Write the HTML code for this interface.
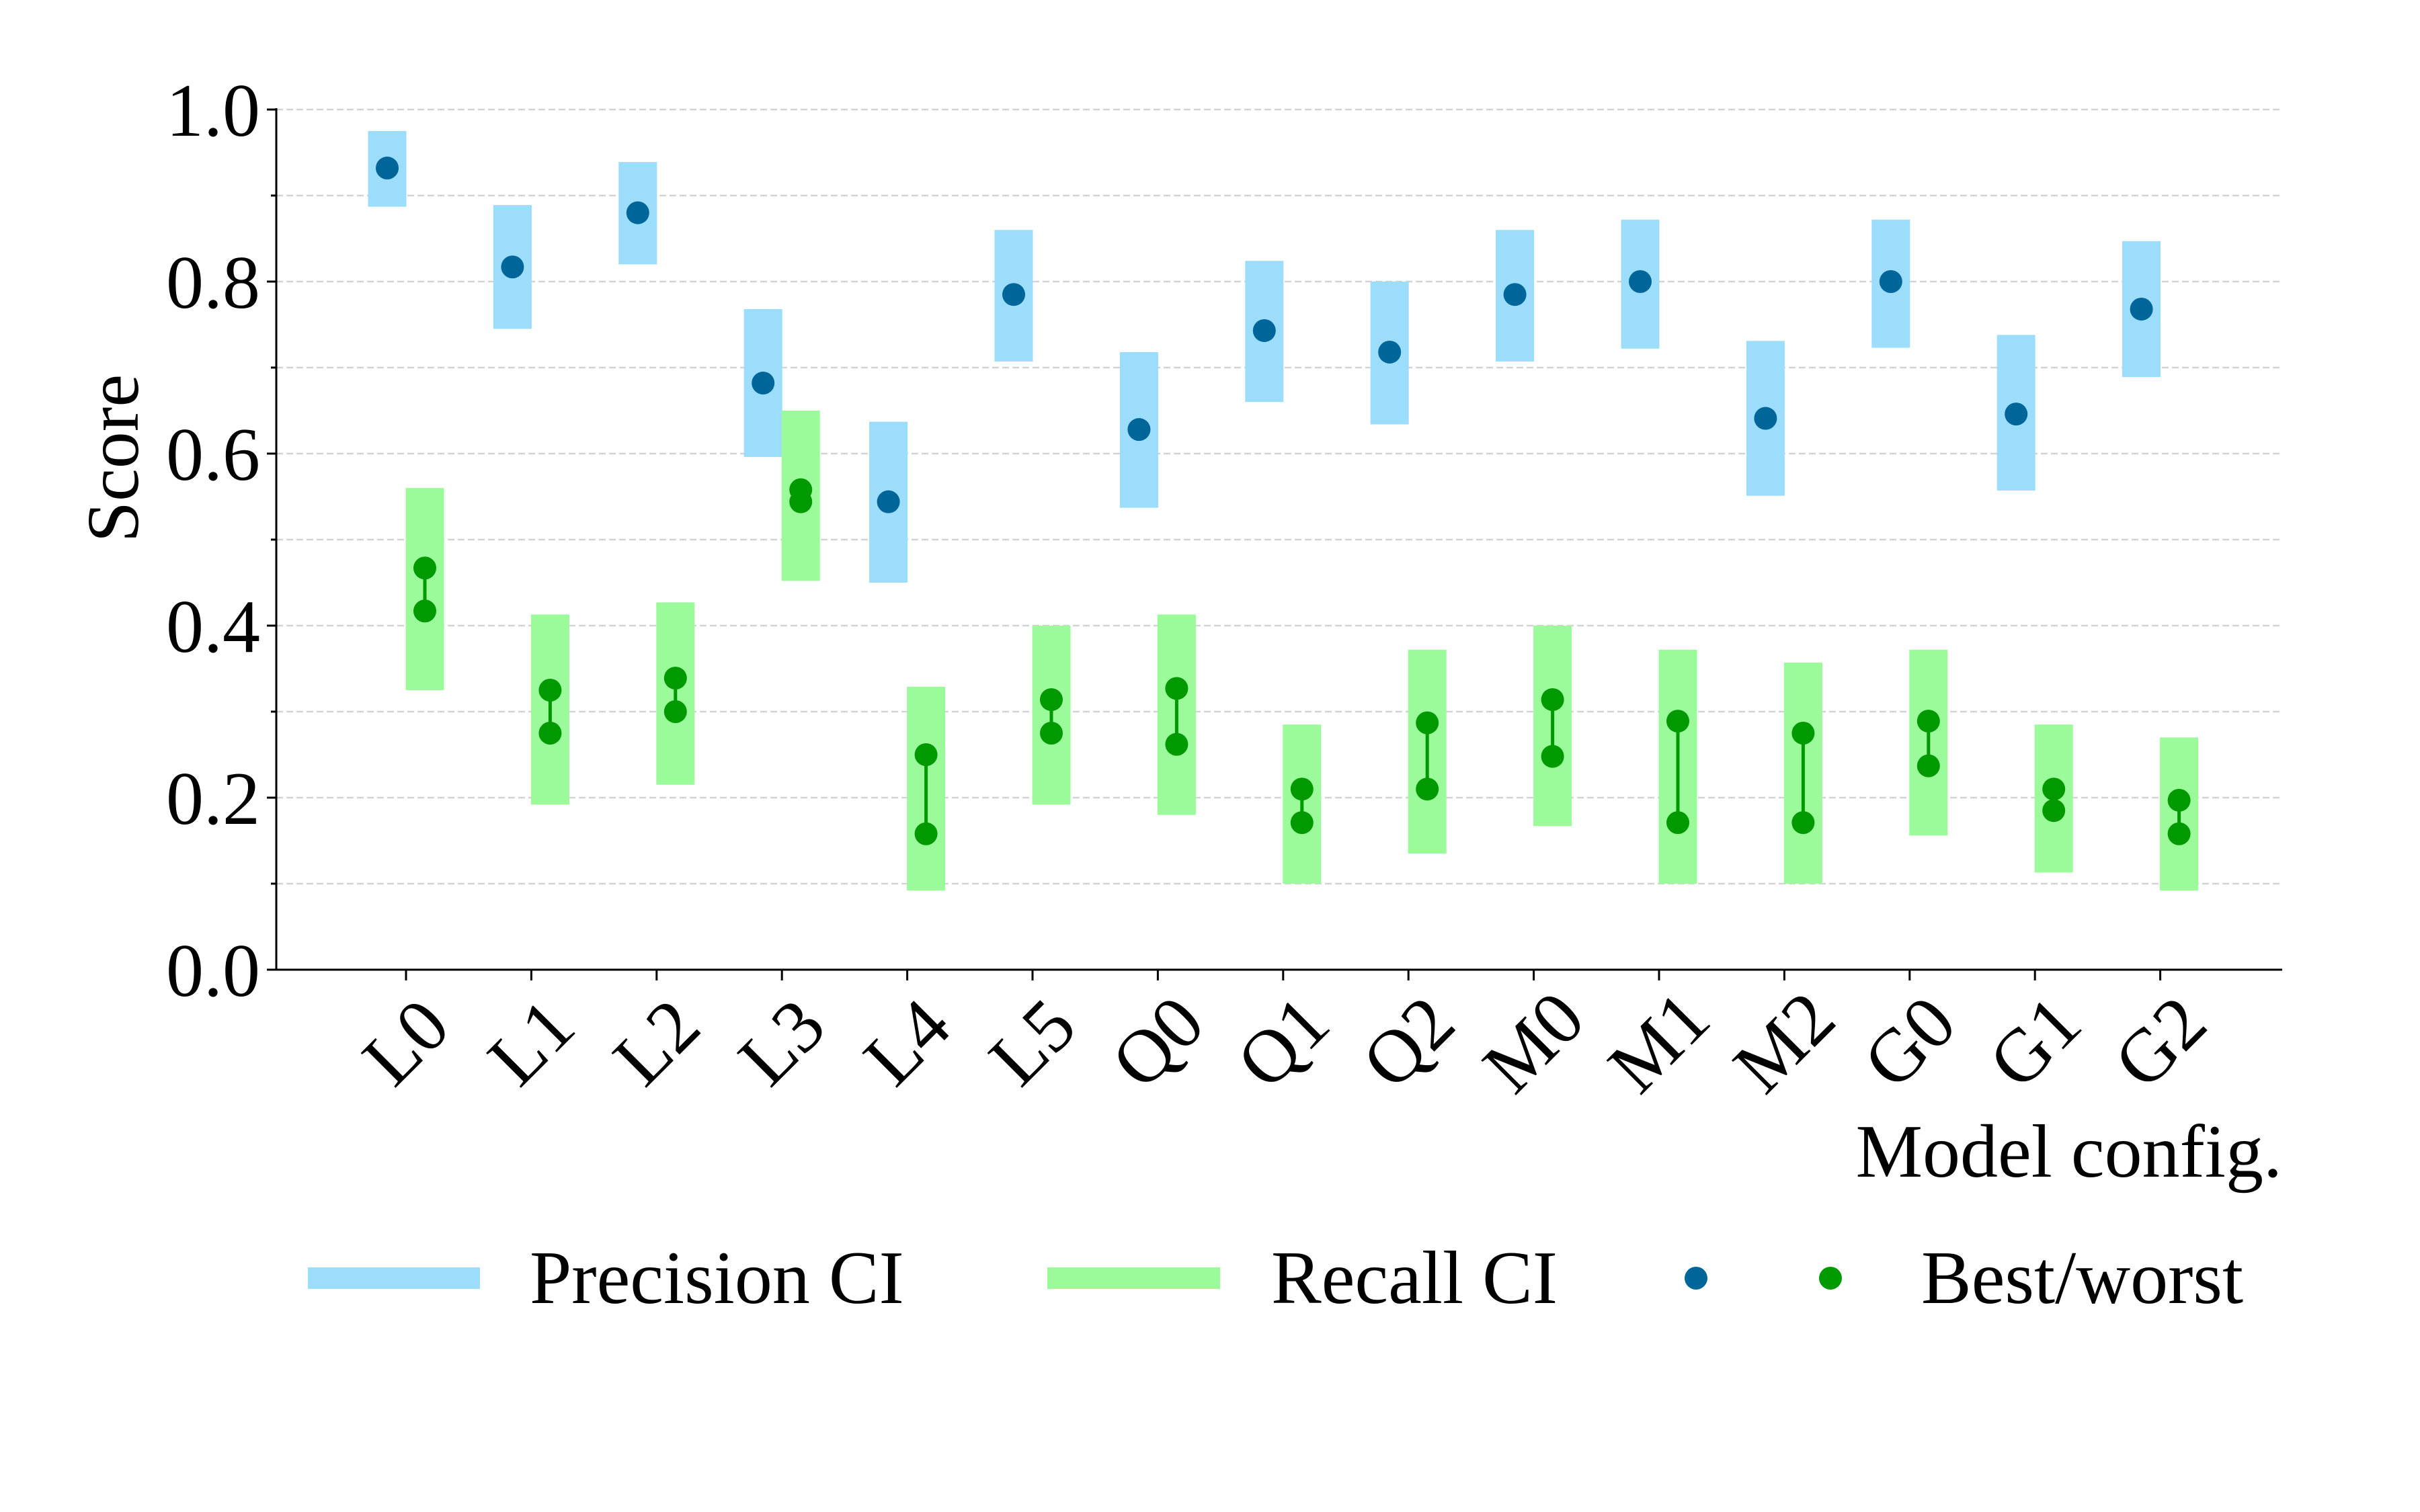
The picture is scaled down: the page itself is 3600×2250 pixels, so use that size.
<!DOCTYPE html>
<html><head><meta charset="utf-8"><style>
html,body{margin:0;padding:0;background:#fff;}
svg{display:block;}
text{font-family:"Liberation Serif",serif;fill:#000;}
</style></head>
<body>
<svg id="chart" width="3600" height="2250" viewBox="0 0 3600 2250" xmlns="http://www.w3.org/2000/svg">
<g id="grid"></g>
<g id="marks"></g>
<g id="axes"></g>
<text x="0" y="0" font-size="110" text-anchor="middle" transform="translate(205,682) rotate(-90)">Score</text>
<text x="3395" y="1751" font-size="112" text-anchor="end">Model config.</text>
<g>
  <rect x="458" y="1886" width="256" height="32" fill="#9bddfb"/>
  <text x="788" y="1939" font-size="112">Precision CI</text>
  <rect x="1558" y="1886" width="257" height="32" fill="#9bfb9b"/>
  <text x="1891" y="1939" font-size="112">Recall CI</text>
  <circle cx="2523" cy="1902" r="17" fill="#006699"/>
  <circle cx="2723" cy="1902" r="17" fill="#009900"/>
  <text x="2858" y="1939" font-size="112">Best/worst</text>
</g>
</svg>
<script>
const categories = ["L0","L1","L2","L3","L4","L5","Q0","Q1","Q2","M0","M1","M2","G0","G1","G2"];
const precLow  = [0.887,0.745,0.820,0.596,0.450,0.707,0.537,0.660,0.634,0.707,0.722,0.551,0.723,0.557,0.689];
const precHigh = [0.975,0.889,0.939,0.768,0.637,0.860,0.718,0.824,0.800,0.860,0.872,0.731,0.872,0.738,0.847];
const precBest = [0.932,0.817,0.880,0.682,0.544,0.785,0.628,0.743,0.718,0.785,0.800,0.641,0.800,0.646,0.768];
const recLow   = [0.325,0.192,0.215,0.452,0.092,0.192,0.180,0.100,0.135,0.167,0.100,0.100,0.156,0.113,0.092];
const recHigh  = [0.560,0.413,0.427,0.650,0.329,0.400,0.413,0.285,0.372,0.400,0.372,0.357,0.372,0.285,0.270];
const recBest  = [0.467,0.325,0.339,0.558,0.250,0.314,0.327,0.210,0.287,0.314,0.289,0.275,0.289,0.210,0.197];
const recWorst = [0.417,0.275,0.300,0.544,0.158,0.275,0.262,0.171,0.210,0.248,0.171,0.171,0.237,0.185,0.158];
const yTicks = ["0.0","0.2","0.4","0.6","0.8","1.0"];

const NS="http://www.w3.org/2000/svg";
const X0=411, X1=3395, Y0=1443, Y1=163;
function y(v){return Y0-(Y0-Y1)*v;}
function xc(i){return 604+i*186.4;}
function mk(tag,attrs,parent){const e=document.createElementNS(NS,tag);for(const k in attrs)e.setAttribute(k,attrs[k]);parent.appendChild(e);return e;}
const grid=document.getElementById('grid'), marks=document.getElementById('marks'), axes=document.getElementById('axes');

for(let k=1;k<=10;k++){
  const v=k/10;
  const g=mk('line',{x1:X0,x2:X1,y1:y(v),y2:y(v),stroke:'#d3d3d3','stroke-width':2.5,'stroke-dasharray':'10,5'},grid);
  
  
  const t=mk('line',{x1:X0-(k%2?8:14),x2:X0,y1:y(v),y2:y(v),stroke:'#000','stroke-width':3},axes);
  
  
}
mk('line',{x1:X0-14,x2:X0,y1:Y0,y2:Y0,stroke:'#000','stroke-width':3},axes);
yTicks.forEach(function(lbl){
  const t=mk('text',{x:X0-24,y:y(parseFloat(lbl))+39,'font-size':112,'text-anchor':'end'},axes);
  t.textContent=lbl;
  
  
});
const sp=mk('line',{x1:X0,x2:X0,y1:Y1-2,y2:Y0+1.5,stroke:'#000','stroke-width':3},axes);


const sb=mk('line',{x1:X0-1.5,x2:X1,y1:Y0,y2:Y0,stroke:'#000','stroke-width':3},axes);



const BW=57, OFF=28;
categories.forEach(function(c,i){
  const cx=xc(i);
  const tk=mk('line',{x1:cx,x2:cx,y1:Y0,y2:Y0+16,stroke:'#000','stroke-width':3},axes);
  
  
  const tl=mk('text',{x:cx,y:1551,'font-size':112,'text-anchor':'middle','dominant-baseline':'central',transform:'rotate(-45 '+cx+' 1551)'},axes);
  tl.textContent=c;
  
  

  const pb=mk('rect',{x:cx-OFF-BW/2,y:y(precHigh[i]),width:BW,height:y(precLow[i])-y(precHigh[i]),fill:'#9bddfb'},marks);
  
  
  const rb=mk('rect',{x:cx+OFF-BW/2,y:y(recHigh[i]),width:BW,height:y(recLow[i])-y(recHigh[i]),fill:'#9bfb9b'},marks);
  
  
  const pd=mk('circle',{cx:cx-OFF,cy:y(precBest[i]),r:17,fill:'#006699'},marks);
  
  
  const rl=mk('line',{x1:cx+OFF,x2:cx+OFF,y1:y(recBest[i]),y2:y(recWorst[i]),stroke:'#009900','stroke-width':5},marks);
  
  
  const r1=mk('circle',{cx:cx+OFF,cy:y(recBest[i]),r:17,fill:'#009900'},marks);
  
  
  const r2=mk('circle',{cx:cx+OFF,cy:y(recWorst[i]),r:17,fill:'#009900'},marks);
  
  
});
</script>
</body></html>
